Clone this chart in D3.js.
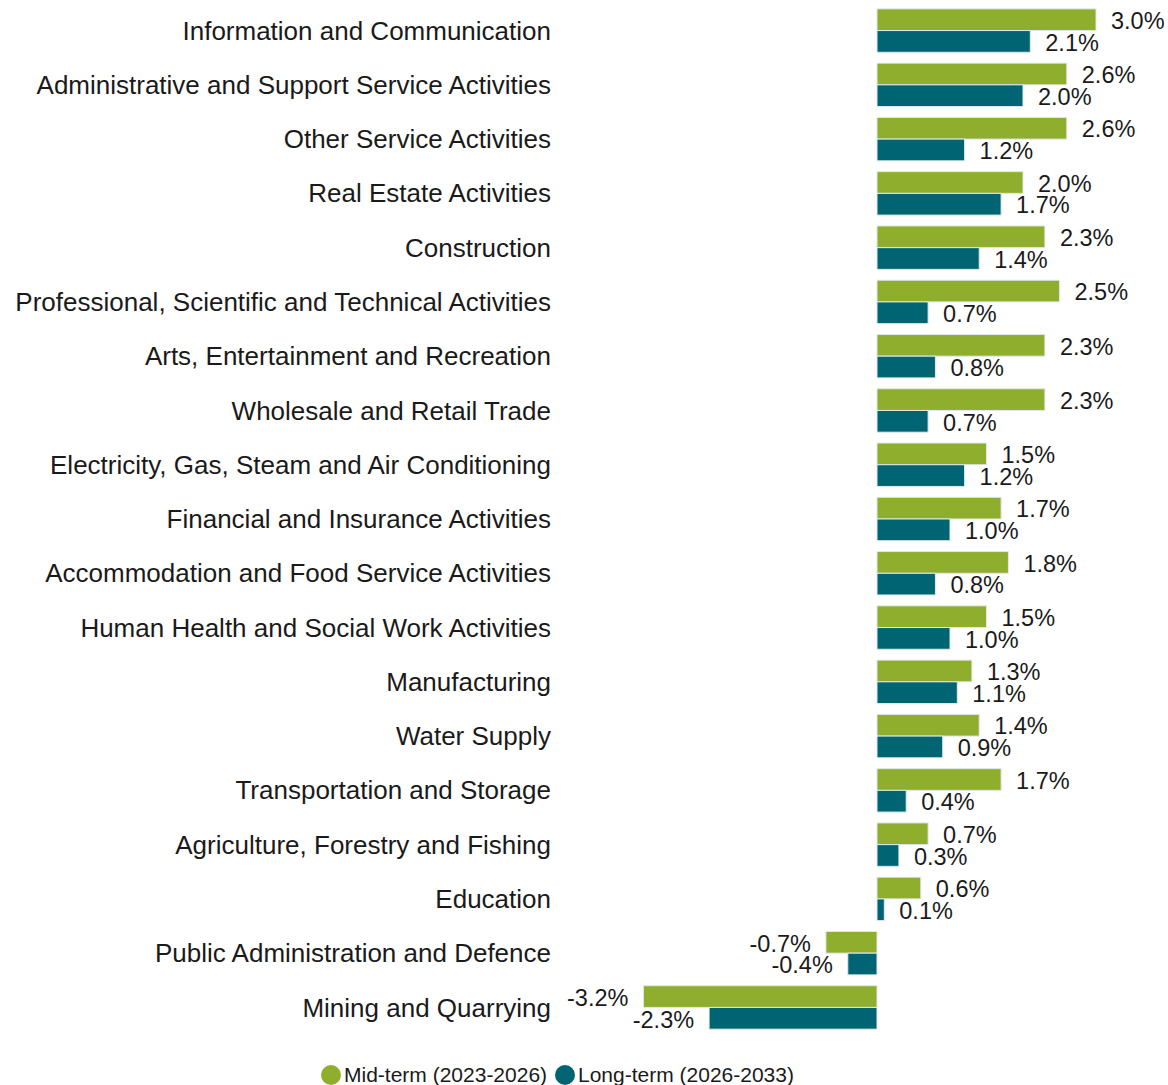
<!DOCTYPE html>
<html>

<head>
  <meta charset='utf-8'>
  <script type="text/javascript" src="https://cdn.jsdelivr.net/npm/d3@7"></script>
  <style type="text/css">
    body {
      margin: 0;
      background: #fff;
    }

    text {
      font-family: "Liberation Sans", Arial, sans-serif;
      fill: #1a1a1a;
    }
  </style>
</head>

<body>
</body>

<script type="text/javascript">
  let w = 1168;
  let h = 1085;

  // data
  let categories = [
    "Information and Communication",
    "Administrative and Support Service Activities",
    "Other Service Activities",
    "Real Estate Activities",
    "Construction",
    "Professional, Scientific and Technical Activities",
    "Arts, Entertainment and Recreation",
    "Wholesale and Retail Trade",
    "Electricity, Gas, Steam and Air Conditioning",
    "Financial and Insurance Activities",
    "Accommodation and Food Service Activities",
    "Human Health and Social Work Activities",
    "Manufacturing",
    "Water Supply",
    "Transportation and Storage",
    "Agriculture, Forestry and Fishing",
    "Education",
    "Public Administration and Defence",
    "Mining and Quarrying"
  ];
  let midTerm = [3.0, 2.6, 2.6, 2.0, 2.3, 2.5, 2.3, 2.3, 1.5, 1.7, 1.8, 1.5, 1.3, 1.4, 1.7, 0.7, 0.6, -0.7, -3.2];
  let longTerm = [2.1, 2.0, 1.2, 1.7, 1.4, 0.7, 0.8, 0.7, 1.2, 1.0, 0.8, 1.0, 1.1, 0.9, 0.4, 0.3, 0.1, -0.4, -2.3];
  let seriesNames = ["Mid-term (2023-2026)", "Long-term (2026-2033)"];
  let colors = ["#90ae2d", "#006472"];

  let rows = categories.map((c, i) => ({ cat: c, vals: [midTerm[i], longTerm[i]] }));

  let svg = d3.select("body")
    .append("svg")
    .attr("width", w)
    .attr("height", h);

  //scales
  let x = d3.scaleLinear()
    .domain([-3.2, 3.0])
    .range([877 - 3.2 * 73, 877 + 3.0 * 73]);

  let y = d3.scaleBand()
    .domain(categories)
    .range([-2, 1040])
    .padding(0.2);

  let ySub = d3.scaleBand()
    .domain([0, 1])
    .range([0, y.bandwidth()]);

  // hyphen instead of unicode minus, like the original
  let fmt = d => d3.format(".1f")(d).replace("\u2212", "-") + "%";

  // category labels
  svg.append("g")
    .selectAll("text")
    .data(categories)
    .enter()
    .append("text")
    .attr("x", 551)
    .attr("y", d => y(d) + y.bandwidth() / 2)
    .attr("dy", "0.35em")
    .attr("text-anchor", "end")
    .style("font-size", "26px")
    .text(d => d);

  let groups = svg.append("g")
    .selectAll("g")
    .data(rows)
    .enter()
    .append("g")
    .attr("transform", d => `translate(0,${y(d.cat)})`);

  groups.selectAll("rect")
    .data(d => d.vals)
    .enter()
    .append("rect")
    .attr("x", d => x(Math.min(0, d)))
    .attr("y", (d, i) => ySub(i))
    .attr("width", d => Math.abs(x(d) - x(0)))
    .attr("height", ySub.bandwidth())
    .attr("fill", (d, i) => colors[i])
    .attr("stroke", "#dfeaec")
    .attr("stroke-width", 1);

  groups.selectAll("text")
    .data(d => d.vals)
    .enter()
    .append("text")
    .attr("x", d => d >= 0 ? x(d) + 15 : x(d) - 15)
    .attr("y", (d, i) => ySub(i) + ySub.bandwidth() / 2 + 1)
    .attr("dy", "0.35em")
    .attr("text-anchor", d => d >= 0 ? "start" : "end")
    .style("font-size", "23.5px")
    .text(fmt);

  // legend
  let legend = svg.append("g")
    .attr("transform", "translate(0,1075)");
  let lx = [331, 565];
  seriesNames.forEach((name, i) => {
    legend.append("circle")
      .attr("cx", lx[i])
      .attr("cy", 0)
      .attr("r", 10)
      .attr("fill", colors[i]);
    legend.append("text")
      .attr("x", lx[i] + 13)
      .attr("y", 0)
      .attr("dy", "0.35em")
      .style("font-size", "21px")
      .text(name);
  });
</script>

</html>
